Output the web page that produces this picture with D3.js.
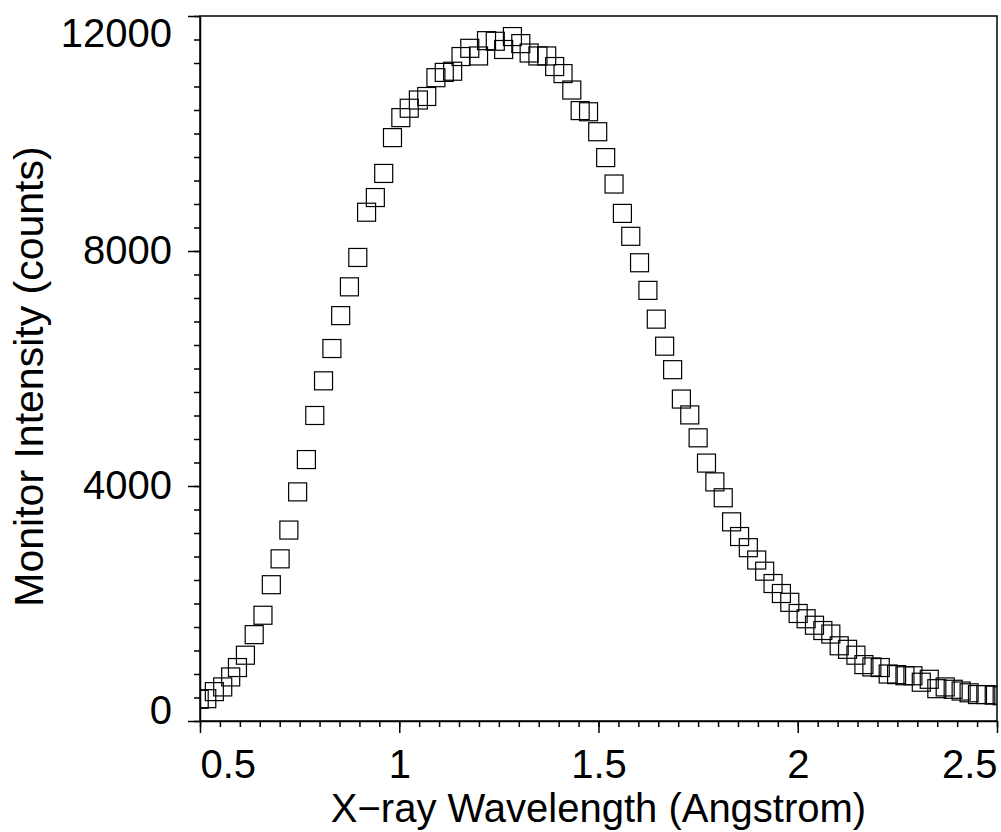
<!DOCTYPE html>
<html>
<head>
<meta charset="utf-8">
<script src="https://cdn.jsdelivr.net/npm/d3@7"></script>
<style>
  body { margin: 0; background: #fff; }
  text { font-family: "Liberation Sans", Arial, sans-serif; fill: #000; }
</style>
</head>
<body>
<svg id="chart" width="1001" height="832"></svg>
<script>
// values
var wavelength = [
    0.498, 0.517, 0.536, 0.557, 0.577, 0.594, 0.614, 0.636, 0.658, 0.679,
    0.701, 0.723, 0.745, 0.767, 0.788, 0.810, 0.831, 0.853, 0.875, 0.896,
    0.918, 0.940, 0.961, 0.983, 1.004, 1.025, 1.048, 1.069, 1.092, 1.113,
    1.134, 1.155, 1.177, 1.199, 1.219, 1.241, 1.262, 1.284, 1.305, 1.326,
    1.348, 1.370, 1.390, 1.411, 1.433, 1.454, 1.475, 1.498, 1.518, 1.539,
    1.560, 1.581, 1.603, 1.624, 1.645, 1.666, 1.686, 1.708, 1.729, 1.750,
    1.771, 1.792, 1.813, 1.834, 1.854, 1.876, 1.897, 1.917, 1.938, 1.959,
    1.980, 2.001, 2.021, 2.042, 2.063, 2.083, 2.104, 2.125, 2.146, 2.166,
    2.186, 2.207, 2.227, 2.248, 2.269, 2.289, 2.310, 2.330, 2.349, 2.370,
    2.390, 2.410, 2.430, 2.451, 2.472, 2.493, 2.513
];

var intensity = [
    370, 380, 500, 580, 750, 910, 1120, 1470, 1800, 2320,
    2760, 3250, 3900, 4450, 5200, 5790, 6340, 6900, 7390, 7890,
    8660, 8910, 9320, 9930, 10270, 10430, 10570, 10630, 10950, 11040,
    11060, 11310, 11450, 11320, 11580, 11570, 11430, 11650, 11530, 11370,
    11320, 11320, 11140, 11020, 10740, 10390, 10370, 10030, 9590, 9140,
    8640, 8250, 7800, 7330, 6840, 6380, 5980, 5480, 5210, 4820,
    4390, 4070, 3800, 3390, 3140, 2950, 2740, 2550, 2340, 2170,
    2020, 1830, 1740, 1630, 1540, 1480, 1280, 1220, 1120, 960,
    920, 910, 800, 790, 770, 770, 660, 710, 550, 580,
    540, 510, 480, 450, 450, 440, 430
];

var xTicks = [0.5, 1, 1.5, 2, 2.5];
var yTicks = [0, 4000, 8000, 12000];
var xMinorStep = 0.05;
var yMinorStep = 400;
var xTitle = "X\u2212ray Wavelength (Angstrom)";
var yTitle = "Monitor Intensity (counts)";

var config = {
    width: 1001,
    height: 832,
    margin: { top: 16, right: 4, bottom: 111, left: 200 },
    fontSize: 40,
    marker: 18
};

var svg = d3.select("#chart");
var innerW = config.width - config.margin.left - config.margin.right;
var innerH = config.height - config.margin.top - config.margin.bottom;

var x = d3.scaleLinear().domain([0.5, 2.5]).range([0, innerW]);
var y = d3.scaleLinear().domain([0, 12000]).range([innerH, 0]);

var g = svg.append("g")
    .attr("transform", `translate(${config.margin.left},${config.margin.top})`);

g.append("clipPath").attr("id", "plot-clip")
    .append("rect").attr("width", innerW).attr("height", innerH);

// minor ticks
g.append("g")
    .attr("transform", `translate(0,${innerH})`)
    .call(d3.axisBottom(x).tickValues(d3.range(0.5, 2.5001, xMinorStep)).tickSize(6).tickFormat(""))
    .call(a => a.select(".domain").remove());
g.append("g")
    .call(d3.axisLeft(y).tickValues(d3.range(0, 12001, yMinorStep)).tickSize(6).tickFormat(""))
    .call(a => a.select(".domain").remove());

// major axes
var xAxis = g.append("g")
    .attr("transform", `translate(0,${innerH})`)
    .call(d3.axisBottom(x).tickValues(xTicks).tickSize(12).tickSizeOuter(0).tickPadding(17).tickFormat(d3.format("")));
var yAxis = g.append("g")
    .call(d3.axisLeft(y).tickValues(yTicks).tickSize(12).tickSizeOuter(0).tickPadding(16).tickFormat(d3.format("d")));

[xAxis, yAxis].forEach(a => {
    a.selectAll("line, path").attr("stroke", "#000").attr("stroke-width", 1.5);
    a.selectAll("text").attr("font-size", config.fontSize).attr("font-family", null);
});
g.selectAll(".tick line").attr("stroke", "#000").attr("stroke-width", 1.5);

// end labels are kept inside the axis span
xAxis.selectAll(".tick text").filter(d => d === xTicks[0]).attr("text-anchor", "start");
xAxis.selectAll(".tick text").filter(d => d === xTicks[xTicks.length - 1]).attr("text-anchor", "end");
yAxis.selectAll(".tick text").filter(d => d === yTicks[yTicks.length - 1]).attr("dy", "0.75em");
yAxis.selectAll(".tick text").filter(d => d === yTicks[0]).attr("dy", "0.05em");

// frame
g.append("rect")
    .attr("width", innerW).attr("height", innerH)
    .attr("fill", "none").attr("stroke", "#000").attr("stroke-width", 1.5);

// markers
g.append("g").attr("clip-path", "url(#plot-clip)")
    .selectAll("rect")
    .data(wavelength.map((w, i) => ({ w: w, v: intensity[i] })))
    .join("rect")
    .attr("x", d => x(d.w) - config.marker / 2)
    .attr("y", d => y(d.v) - config.marker / 2)
    .attr("width", config.marker)
    .attr("height", config.marker)
    .attr("fill", "none")
    .attr("stroke", "#000")
    .attr("stroke-width", 1.2);

// titles
svg.append("text")
    .attr("x", config.margin.left + innerW / 2)
    .attr("y", 822)
    .attr("text-anchor", "middle")
    .attr("font-size", 40)
    .text(xTitle);

svg.append("text")
    .attr("transform", `translate(43,${config.margin.top + innerH / 2 + 8}) rotate(-90)`)
    .attr("text-anchor", "middle")
    .attr("font-size", 41)
    .text(yTitle);
</script>
</body>
</html>
